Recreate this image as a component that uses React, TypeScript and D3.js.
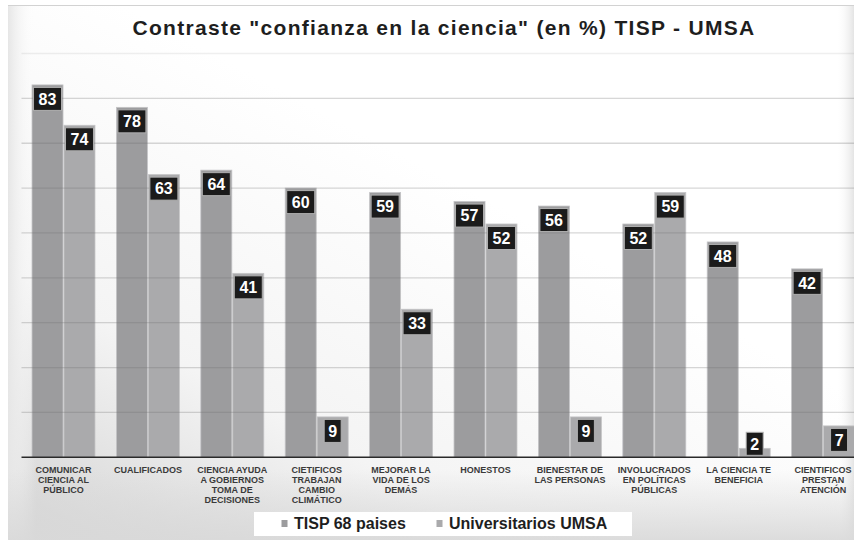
import React from "react";
import * as d3 from "d3";

const categoryLabels: string[][] = [
  ["COMUNICAR", "CIENCIA AL", "PÚBLICO"],
  ["CUALIFICADOS"],
  ["CIENCIA AYUDA", "A GOBIERNOS", "TOMA DE", "DECISIONES"],
  ["CIETIFICOS", "TRABAJAN", "CAMBIO", "CLIMÁTICO"],
  ["MEJORAR LA", "VIDA DE LOS", "DEMÁS"],
  ["HONESTOS"],
  ["BIENESTAR DE", "LAS PERSONAS"],
  ["INVOLUCRADOS", "EN POLÍTICAS", "PÚBLICAS"],
  ["LA CIENCIA TE", "BENEFICIA"],
  ["CIENTIFICOS", "PRESTAN", "ATENCIÓN"],
];
const tispValues = [83, 78, 64, 60, 59, 57, 56, 52, 48, 42];
const umsaValues = [74, 63, 41, 9, 33, 52, 9, 59, 2, 7];
const seriesNames = ["TISP 68 paises", "Universitarios UMSA"];
const seriesColors = ["#9c9c9e", "#aaaaac"];
const gridTicks = [10, 20, 30, 40, 50, 60, 70, 80, 90];
const titleText = 'Contraste "confianza en la ciencia" (en %) TISP - UMSA';

const FONT = "'Liberation Sans', Arial, Helvetica, sans-serif";

export default function App() {
  const W = 854;
  const H = 540;
  const baseY = 457.3;
  const ids = categoryLabels.map((_, i) => String(i));
  const x0 = d3
    .scaleBand<string>()
    .domain(ids)
    .range([21.3, 865.3])
    .paddingInner(0.254)
    .paddingOuter(0.127);
  const x1 = d3
    .scaleBand<string>()
    .domain(["0", "1"])
    .range([0, x0.bandwidth()])
    .paddingInner(0.03);
  const y = d3.scaleLinear().domain([0, 90]).range([baseY, 53.5]);

  const series = [tispValues, umsaValues];

  return (
    <svg
      width={W}
      height={H}
      style={{ position: "absolute", left: 0, top: 0, display: "block" }}
    >
      <defs>
        <linearGradient id="bgGrad" x1="0" y1="1" x2="0.55" y2="0.35">
          <stop offset="0%" stopColor="#d2d2d2" />
          <stop offset="45%" stopColor="#f4f4f4" />
          <stop offset="100%" stopColor="#ffffff" />
        </linearGradient>
        <linearGradient id="leftGrad" x1="0" y1="0" x2="1" y2="0">
          <stop offset="0%" stopColor="#e6e6e6" stopOpacity={1} />
          <stop offset="100%" stopColor="#ffffff" stopOpacity={0} />
        </linearGradient>
        <linearGradient id="rightGrad" x1="0" y1="0" x2="1" y2="0">
          <stop offset="0%" stopColor="#ffffff" stopOpacity={0} />
          <stop offset="100%" stopColor="#e4e4e4" stopOpacity={1} />
        </linearGradient>
        <linearGradient id="bottomGrad" x1="0" y1="0" x2="0" y2="1">
          <stop offset="0%" stopColor="#d9d9d9" stopOpacity={0} />
          <stop offset="100%" stopColor="#d9d9d9" stopOpacity={0.9} />
        </linearGradient>
      </defs>
      <rect x={0} y={0} width={W} height={H} fill="#ffffff" />
      <rect x={8} y={5} width={W - 8} height={H - 5} fill="url(#bgGrad)" />
      <rect x={8} y={5} width={28} height={H - 5} fill="url(#leftGrad)" />
      <rect x={836} y={5} width={18} height={H - 5} fill="url(#rightGrad)" />
      <rect x={8} y={470} width={W - 8} height={70} fill="url(#bottomGrad)" />
      <line x1={8} x2={W} y1={5.5} y2={5.5} stroke="#d2d2d2" strokeWidth={1.2} />

      <text
        x={444}
        y={35}
        textAnchor="middle"
        fontFamily={FONT}
        fontWeight="bold"
        fontSize={21}
        letterSpacing={1.3}
        fill="#1e1e1e"
      >
        {titleText}
      </text>

      {/* bars */}
      {ids.map((id, i) => (
        <g key={id} transform={`translate(${x0(id)},0)`}>
          {series.map((vals, s) => {
            const v = vals[i];
            return (
              <rect
                key={s}
                x={x1(String(s))}
                y={y(v)}
                width={x1.bandwidth()}
                height={baseY - y(v)}
                fill={seriesColors[s]}
                stroke="#c4c4c6"
                strokeWidth={0.8}
              />
            );
          })}
        </g>
      ))}

      {/* gridlines over bars */}
      {gridTicks.map((t) => (
        <line
          key={t}
          x1={21.5}
          x2={W}
          y1={y(t)}
          y2={y(t)}
          stroke={t === 90 ? "rgba(120,120,120,0.12)" : "rgba(110,110,110,0.28)"}
          strokeWidth={1.3}
        />
      ))}

      {/* baseline */}
      <line x1={21.5} x2={W} y1={baseY} y2={baseY} stroke="#2a2a2a" strokeWidth={1.6} />

      {/* value boxes */}
      {ids.map((id, i) => (
        <g key={"lbl" + id}>
          {series.map((vals, s) => {
            const v = vals[i];
            const txt = String(v);
            const bw = txt.length === 1 ? 17 : 28;
            const bh = 23;
            const cx = (x0(id) as number) + (x1(String(s)) as number) + x1.bandwidth() / 2;
            const barH = baseY - y(v);
            const top = barH < bh + 4 ? baseY - 25 : y(v) + 2.5;
            return (
              <g key={s}>
                <rect
                  x={cx - bw / 2}
                  y={top}
                  width={bw}
                  height={bh}
                  fill="#1b1b1b"
                  stroke="#b0b0b0"
                  strokeWidth={1}
                />
                <text
                  x={cx}
                  y={top + 17.3}
                  textAnchor="middle"
                  fontFamily={FONT}
                  fontWeight="bold"
                  fontSize={16}
                  fill="#ffffff"
                >
                  {txt}
                </text>
              </g>
            );
          })}
        </g>
      ))}

      {/* category labels */}
      {ids.map((id, i) => {
        const cx = (x0(id) as number) + x0.bandwidth() / 2;
        return (
          <text
            key={"cat" + id}
            textAnchor="middle"
            fontFamily={FONT}
            fontWeight="bold"
            fontSize={9}
            fill="#3a3a3a"
          >
            {categoryLabels[i].map((line, k) => (
              <tspan key={k} x={cx} y={472.5 + k * 10.3}>
                {line}
              </tspan>
            ))}
          </text>
        );
      })}

      {/* legend */}
      <rect x={254} y={512} width={378} height={24} fill="#ffffff" />
      {seriesNames.map((name, s) => {
        const mx = s === 0 ? 281.5 : 436.5;
        return (
          <g key={"leg" + s}>
            <rect x={mx} y={520} width={6} height={7} fill={seriesColors[s]} />
            <text
              x={mx + 12.5}
              y={529}
              fontFamily={FONT}
              fontWeight="bold"
              fontSize={16}
              fill="#1e1e1e"
            >
              {name}
            </text>
          </g>
        );
      })}
    </svg>
  );
}
